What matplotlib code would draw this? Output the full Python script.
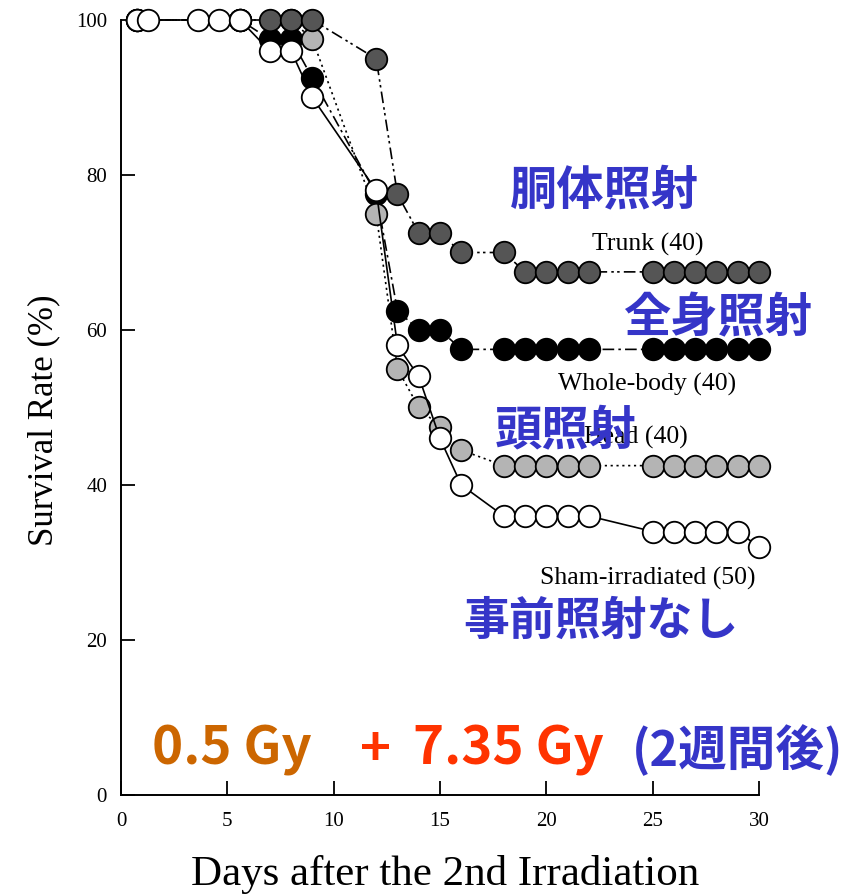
import matplotlib
matplotlib.use("Agg")
import matplotlib.pyplot as plt

W, H = 863, 896

# ---- data ----
sham_days = [0.75, 1.25, 3.6, 4.6, 5.6, 7, 8, 9, 12, 13, 14, 15, 16,
             18, 19, 20, 21, 22, 25, 26, 27, 28, 29, 30]
sham_vals = [100, 100, 100, 100, 100, 96, 96, 90, 78, 58, 54, 46, 40,
             36, 36, 36, 36, 36, 34, 34, 34, 34, 34, 32]

head_days = [0.75, 5.6, 8, 9, 12, 13, 14, 15, 16,
             18, 19, 20, 21, 22, 25, 26, 27, 28, 29, 30]
head_vals = [100, 100, 100, 97.5, 75, 55, 50, 47.5, 44.5,
             42.5, 42.5, 42.5, 42.5, 42.5, 42.5, 42.5, 42.5, 42.5, 42.5, 42.5]

whole_days = [0.75, 5.6, 7, 8, 9, 12, 13, 14, 15, 16,
              18, 19, 20, 21, 22, 25, 26, 27, 28, 29, 30]
whole_vals = [100, 100, 97.5, 97.5, 92.5, 77.5, 62.5, 60, 60, 57.5,
              57.5, 57.5, 57.5, 57.5, 57.5, 57.5, 57.5, 57.5, 57.5, 57.5, 57.5]

trunk_days = [0.75, 5.6, 7, 8, 9, 12, 13, 14, 15, 16, 18,
              19, 20, 21, 22, 25, 26, 27, 28, 29, 30]
trunk_vals = [100, 100, 100, 100, 100, 95, 77.5, 72.5, 72.5, 70, 70,
              67.5, 67.5, 67.5, 67.5, 67.5, 67.5, 67.5, 67.5, 67.5, 67.5]

x_ticks = [0, 5, 10, 15, 20, 25, 30]
y_ticks = [0, 20, 40, 60, 80, 100]

series_labels = ["Trunk (40)", "Whole-body (40)", "Head (40)", "Sham-irradiated (50)"]
jp_labels = ["胴体照射", "全身照射", "頭照射", "事前照射なし"]

# ---- figure ----
fig = plt.figure(figsize=(W / 100, H / 100), dpi=100)
ax = fig.add_axes([121 / W, 1 - 795 / H, (759 - 121) / W, (795 - 20) / H])
ax.set_xlim(0, 30)
ax.set_ylim(0, 100)

serif = "Liberation Serif"
ms = 15.5
mew = 1.3

ax.plot(whole_days, whole_vals, color="black", lw=1.2, dashes=(7, 2.5, 1.5, 2.5),
        marker="o", ms=ms, mfc="black", mec="black", mew=mew, zorder=4, clip_on=False)
ax.plot(head_days, head_vals, color="black", lw=1.2, dashes=(1.3, 2.2),
        marker="o", ms=ms, mfc="#b4b4b4", mec="black", mew=mew, zorder=5, clip_on=False)
ax.plot(trunk_days, trunk_vals, color="black", lw=1.2, dashes=(7, 2.5, 1.5, 2, 1.5, 2.5),
        marker="o", ms=ms, mfc="#555555", mec="black", mew=mew, zorder=6, clip_on=False)
ax.plot(sham_days, sham_vals, color="black", lw=1.2, ls="-",
        marker="o", ms=ms, mfc="white", mec="black", mew=mew, zorder=7, clip_on=False)

for s in ["top", "right"]:
    ax.spines[s].set_visible(False)
for s in ["left", "bottom"]:
    ax.spines[s].set_linewidth(1.4)

ax.set_xticks(x_ticks)
ax.set_yticks(y_ticks)
ax.tick_params(direction="in", length=10, width=1.3, pad=12)
ax.tick_params(axis="y", pad=10)
for lab in ax.get_xticklabels() + ax.get_yticklabels():
    lab.set_fontfamily(serif)
    lab.set_fontsize(15)


def ftext(px, py, s, **kw):
    return fig.text(px / W, 1 - py / H, s, **kw)


# axis titles
ftext(445, 874, "Days after the 2nd Irradiation", ha="center", va="center",
      fontfamily=serif, fontsize=31)
ftext(44, 420, "Survival Rate (%)", ha="center", va="center", rotation=90,
      fontfamily=serif, fontsize=25)

# series labels (serif)
label_pos = [(648, 244), (647, 384), (636, 437), (648, 578)]
for (px, py), s in zip(label_pos, series_labels):
    ftext(px, py, s, ha="center", va="center", fontfamily=serif, fontsize=18.5, zorder=8)

# Japanese labels (blue, bold)
blue = "#3535c8"
jp_pos = [(510, 190, 34), (623, 318, 34), (495, 430, 34), (463, 622, 33)]
for (px, py, fs), s in zip(jp_pos, jp_labels):
    ftext(px, py, s, ha="left", va="center", fontfamily=["Noto Sans CJK JP", "DejaVu Sans"],
          fontweight="bold", fontsize=fs, color=blue, zorder=10)

# dose annotation
dose_font = ["Noto Sans CJK JP"]
ftext(152, 750, "0.5 Gy", ha="left", va="center", fontfamily=dose_font,
      fontweight="bold", fontsize=38, color="#cc6600", zorder=10)
ftext(360, 750, "+", ha="left", va="center", fontfamily=dose_font,
      fontweight="bold", fontsize=38, color="#ff3300", zorder=10)
ftext(413, 750, "7.35 Gy", ha="left", va="center", fontfamily=dose_font,
      fontweight="bold", fontsize=38, color="#ff3300", zorder=10)
ftext(632, 750, "(2週間後)", ha="left", va="center", fontfamily=dose_font,
      fontweight="bold", fontsize=35, color=blue, zorder=10)

fig.savefig("out.png", dpi=100)
